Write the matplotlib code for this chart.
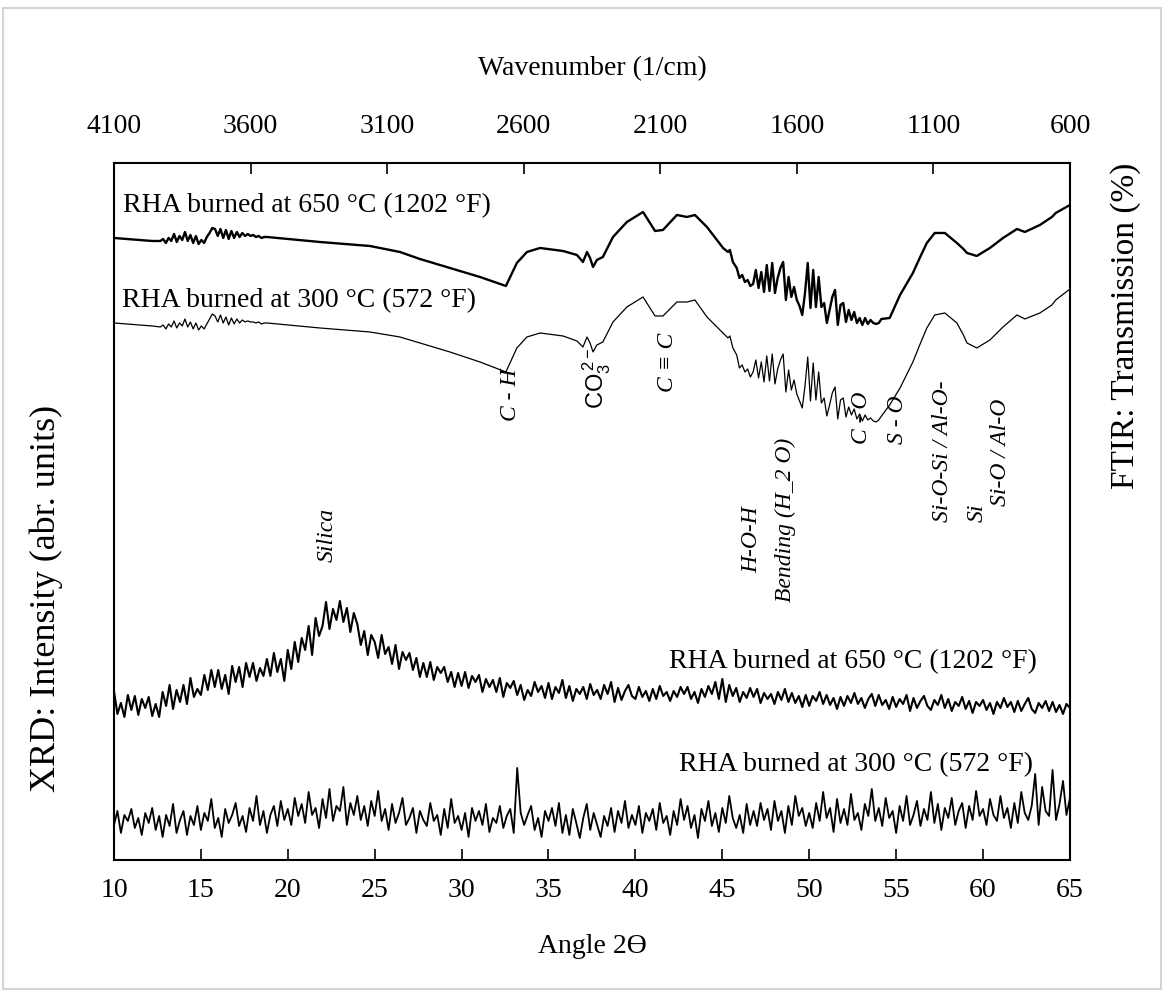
import numpy as np
import matplotlib
matplotlib.use("Agg")
import matplotlib.pyplot as plt
from matplotlib.patches import Rectangle

plt.rcParams["font.family"] = ["Liberation Serif", "DejaVu Sans"]
plt.rcParams["mathtext.fontset"] = "custom"
plt.rcParams["mathtext.rm"] = "Liberation Sans"

## FTIR: wavenumber (1/cm) and transmission (arbitrary offset units)
ftir_wn = np.r_[
    [4100, 3960],
    np.arange(3930, 3539, -10),
    [3346, 3163, 3053, 2980, 2870, 2760, 2665, 2625, 2588, 2540, 2456, 2405,
     2383, 2368, 2357, 2346, 2332, 2310, 2273, 2222, 2163, 2119, 2090, 2039,
     2002, 1973, 1929, 1870, 1852, 1845, 1834, 1820],
    np.arange(1810, 1289, -10),
    [1260, 1222, 1175, 1150, 1124, 1095, 1058, 1014, 990, 977, 941, 893, 845,
     794, 765, 710, 666, 652, 600],
]

ftir_650 = [
    622, 619,
    619, 621, 617, 622, 619, 626, 618, 624, 620, 628,
    619, 625, 617, 624, 616, 620, 617, 623, 627, 632,
    631, 624, 631, 622, 630, 621, 629, 622, 628, 623,
    627, 624, 626, 624, 625, 623, 624, 622, 623, 623,
    618, 614, 608, 601, 592, 583, 574, 597, 608, 612, 609, 605,
    598, 608, 602, 593, 600, 603, 623, 638, 648, 629, 630, 645,
    643, 645, 633, 612, 608, 610, 598, 592,
    582, 585, 578, 580, 574, 576, 590, 572, 588, 568,
    595, 569, 597, 567, 582, 592, 598, 560, 583, 563,
    573, 560, 554, 545, 567, 597, 552, 590, 553, 583,
    553, 557, 537, 550, 563, 570, 535, 555, 557, 538,
    550, 540, 548, 537, 542, 535, 542, 536, 540, 537,
    536, 537, 541,
    542, 565, 587, 602, 617, 627, 627, 617, 611, 607, 604, 612, 622,
    631, 628, 635, 643, 647, 655,
]

ftir_300 = [
    537, 534,
    533, 535, 531, 536, 533, 539, 532, 537, 534, 541,
    533, 538, 531, 537, 530, 534, 531, 536, 541, 546,
    544, 538, 545, 537, 543, 535, 542, 536, 541, 537,
    540, 538, 539, 538, 538, 537, 538, 536, 537, 537,
    532, 528, 523, 517, 508, 498, 488, 512, 523, 527, 524, 519,
    513, 523, 517, 508, 515, 518, 538, 553, 563, 544, 544, 558,
    558, 560, 543, 527, 522, 524, 512, 505,
    492, 495, 488, 491, 483, 488, 500, 482, 498, 478,
    504, 479, 506, 476, 491, 500, 506, 468, 490, 470,
    480, 466, 459, 452, 474, 503, 459, 497, 460, 488,
    457, 462, 444, 455, 467, 473, 441, 460, 462, 443,
    453, 445, 451, 441, 446, 439, 445, 440, 442, 439,
    438, 440, 444,
    455, 472, 498, 515, 532, 545, 547, 537, 525, 517, 512, 520, 533,
    545, 541, 547, 555, 560, 571,
]

## XRD: 2theta from 10 to 65 in 0.2 steps, intensity (arbitrary offset units)
two_theta = np.linspace(10, 65, 276)

xrd_650 = [
    169, 146, 157, 143, 165, 150, 164, 145, 161, 152,
    163, 144, 156, 143, 168, 154, 175, 151, 170, 158,
    175, 156, 182, 163, 171, 165, 185, 170, 190, 173,
    190, 171, 185, 166, 194, 178, 193, 173, 197, 183,
    197, 179, 192, 184, 201, 184, 207, 188, 201, 179,
    210, 191, 218, 198, 222, 210, 234, 205, 242, 224,
    234, 258, 231, 251, 240, 259, 238, 252, 228, 247,
    236, 215, 229, 205, 225, 218, 202, 225, 206, 213,
    196, 215, 191, 208, 200, 207, 190, 202, 183, 197,
    183, 198, 180, 193, 187, 193, 178, 188, 173, 187,
    174, 188, 172, 184, 178, 185, 168, 181, 173, 180,
    168, 182, 163, 177, 172, 179, 165, 175, 160, 170,
    164, 178, 168, 174, 162, 177, 161, 173, 167, 180,
    162, 174, 159, 171, 166, 173, 161, 176, 165, 170,
    161, 175, 166, 178, 158, 172, 160, 169, 175, 164,
    161, 173, 163, 169, 159, 171, 161, 174, 164, 168,
    159, 169, 163, 173, 166, 173, 161, 168, 157, 171,
    163, 174, 166, 178, 161, 181, 158, 175, 164, 172,
    158, 168, 162, 172, 163, 171, 157, 167, 161, 166,
    156, 168, 160, 171, 158, 167, 157, 164, 153, 165,
    154, 164, 159, 168, 156, 165, 155, 162, 151, 163,
    154, 164, 157, 167, 156, 162, 152, 161, 166, 154,
    165, 155, 160, 151, 163, 153, 161, 156, 165, 149,
    162, 152, 159, 164, 154, 150, 160, 155, 165, 152,
    161, 149, 158, 154, 163, 151, 159, 147, 158, 154,
    160, 150, 157, 146, 158, 152, 162, 153, 158, 148,
    159, 149, 156, 162, 151, 147, 157, 152, 159, 149,
    158, 148, 155, 146, 156, 152,
]

xrd_300 = [
    35, 49, 27, 45, 39, 51, 32, 42, 25, 47,
    37, 52, 30, 44, 23, 45, 34, 56, 27, 40,
    49, 25, 44, 35, 54, 30, 47, 39, 61, 32,
    42, 23, 51, 37, 45, 57, 34, 44, 28, 52,
    39, 64, 35, 49, 27, 45, 54, 34, 59, 40,
    51, 35, 62, 44, 56, 37, 68, 45, 52, 32,
    61, 42, 71, 39, 54, 49, 73, 35, 57, 45,
    64, 40, 54, 34, 59, 44, 69, 39, 51, 30,
    56, 37, 47, 62, 35, 42, 52, 27, 49, 40,
    34, 57, 39, 45, 25, 51, 32, 61, 37, 44,
    30, 47, 23, 52, 39, 49, 35, 56, 28, 42,
    37, 54, 32, 44, 51, 27, 92, 47, 35, 45,
    54, 30, 42, 23, 49, 39, 52, 34, 57, 27,
    45, 25, 51, 37, 22, 42, 56, 30, 47, 35,
    23, 44, 34, 52, 28, 49, 37, 59, 32, 45,
    35, 54, 27, 47, 39, 51, 30, 57, 37, 44,
    25, 49, 35, 61, 40, 54, 32, 45, 22, 51,
    39, 59, 34, 47, 28, 52, 37, 64, 42, 32,
    45, 27, 56, 35, 49, 34, 57, 40, 51, 30,
    59, 39, 49, 27, 54, 35, 64, 44, 52, 34,
    47, 32, 57, 39, 68, 42, 52, 28, 61, 37,
    51, 35, 66, 40, 47, 30, 56, 44, 71, 39,
    52, 34, 62, 42, 49, 27, 54, 39, 64, 35,
    45, 59, 34, 51, 40, 68, 37, 56, 30, 52,
    42, 62, 35, 49, 57, 32, 54, 40, 69, 44,
    51, 35, 61, 45, 39, 64, 42, 52, 32, 57,
    37, 68, 47, 40, 54, 86, 35, 73, 49, 44,
    90, 40, 56, 79, 45, 62,
]

FS = 20

fig = plt.figure(figsize=(11.64, 9.92), dpi=100)
rect = [0.0979, 0.1331, 0.8213, 0.7026]

## XRD on bottom / left
ax = fig.add_axes(rect)
ax.plot(two_theta, xrd_650, color="black", lw=1.5)
ax.plot(two_theta, xrd_300, color="black", lw=1.3)
ax.set_xlim(10, 65)
ax.set_ylim(0, 697)
ax.set_xticks(np.arange(10, 66, 5))
ax.set_yticks([])
ax.tick_params(axis="x", direction="in", length=8, width=1.2, pad=13, labelsize=FS)
ax.set_xlabel("Angle 2ϴ", fontsize=FS, labelpad=22)
ax.set_ylabel("XRD: Intensity (abr. units)", fontsize=26)
ax.yaxis.set_label_coords(-0.053, 0.375)
for s in ax.spines.values():
    s.set_linewidth(1.5)

## FTIR on top / right
ax_ft = fig.add_axes(rect, frameon=False)
ax_ft.plot(ftir_wn, ftir_650, color="black", lw=1.7)
ax_ft.plot(ftir_wn, ftir_300, color="black", lw=0.9)
ax_ft.set_xlim(4100, 600)
ax_ft.set_ylim(0, 697)
ax_ft.set_xticks(np.arange(4100, 599, -500))
ax_ft.set_yticks([])
ax_ft.xaxis.tick_top()
ax_ft.xaxis.set_label_position("top")
ax_ft.yaxis.set_label_position("right")
ax_ft.tick_params(axis="x", direction="in", length=8, width=1.2, pad=17, labelsize=FS)
ax_ft.set_xlabel("Wavenumber (1/cm)", fontsize=FS, labelpad=28)
ax_ft.set_ylabel("FTIR: Transmission (%)", fontsize=24)
ax_ft.yaxis.set_label_coords(1.042, 0.766)

## curve labels
ax_ft.text(4067, 654, "RHA burned at 650 °C (1202 °F)", fontsize=FS, ha="left", va="center")
ax_ft.text(4070, 559, "RHA burned at 300 °C (572 °F)", fontsize=FS, ha="left", va="center")
ax.text(63.1, 198, "RHA burned at 650 °C (1202 °F)", fontsize=FS, ha="right", va="center")
ax.text(62.9, 95, "RHA burned at 300 °C (572 °F)", fontsize=FS, ha="right", va="center")

## band assignments
AF = 17
ax_ft.text(2650, 465, "C - H", rotation=90, style="italic", fontsize=AF, ha="center", va="center")
ax_ft.text(2332, 482, r"$\mathrm{CO}_3^{\,2-}$", rotation=90, fontsize=AF, ha="center", va="center")
ax_ft.text(2075, 498, "C ≡ C", rotation=90, style="italic", fontsize=AF, ha="center", va="center")
ax_ft.text(1764, 320, "H-O-H", rotation=90, style="italic", fontsize=AF, ha="center", va="center")
ax_ft.text(1640, 340, "Bending (H_2 O)", rotation=90, style="italic", fontsize=AF, ha="center", va="center")
ax_ft.text(1362, 442, "C - O", rotation=90, style="italic", fontsize=AF, ha="center", va="center")
ax_ft.text(1233, 440, "S - O", rotation=90, style="italic", fontsize=AF, ha="center", va="center")
ax_ft.text(1065, 338, "Si-O-Si / Al-O-", rotation=90, style="italic", fontsize=AF, ha="center", va="bottom")
ax_ft.text(940, 338, "Si", rotation=90, style="italic", fontsize=AF, ha="center", va="bottom")
ax_ft.text(856, 408, "Si-O / Al-O", rotation=90, style="italic", fontsize=AF, ha="center", va="center")
ax.text(22.26, 325, "Silica", rotation=90, style="italic", fontsize=AF, ha="center", va="center")

## light frame around the whole picture
fig.patches.append(Rectangle((3 / 1164, 1 - 989 / 992), 1158 / 1164, 981 / 992,
                             transform=fig.transFigure, fill=False,
                             edgecolor="#d4d4d4", lw=1.5))

fig.savefig("out.png", dpi=100)
